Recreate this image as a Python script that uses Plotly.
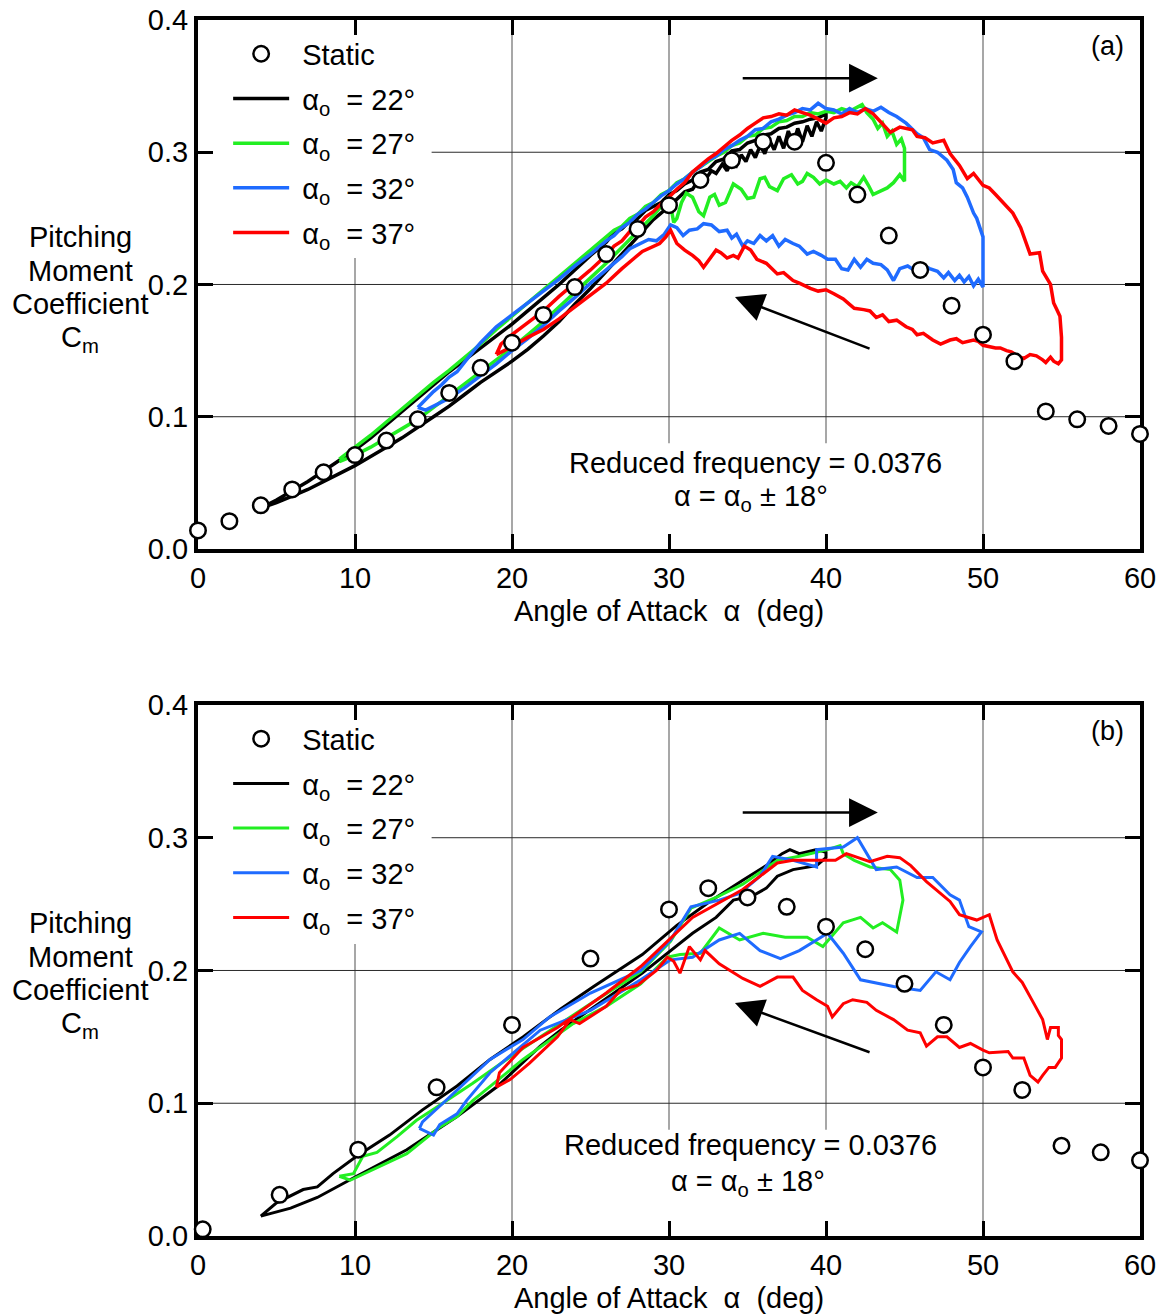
import plotly.graph_objects as go

FONT = "Liberation Sans, Arial, Helvetica, sans-serif"
FS = 29

# ---------------- Panel (a): measured loops (alpha deg, Cm) ----------------
static_a_alpha = [0, 2, 4, 6, 8, 10, 12, 14, 16, 18, 20, 22, 24, 26, 28, 30,
                  32, 34, 36, 38, 40, 42, 44, 46, 48, 50, 52, 54, 56, 58, 60]
static_a_cm = [0.014, 0.021, 0.033, 0.045, 0.058, 0.071, 0.082, 0.098, 0.118,
               0.137, 0.156, 0.177, 0.198, 0.223, 0.242, 0.260, 0.279, 0.294,
               0.308, 0.308, 0.292, 0.268, 0.237, 0.211, 0.184, 0.162, 0.142,
               0.104, 0.098, 0.093, 0.087]

a22_loop = [
    (4, 0.031), (5, 0.037), (6, 0.044), (7, 0.051), (8, 0.059), (9, 0.067),
    (10, 0.075), (11, 0.084), (12, 0.094), (13, 0.104), (14, 0.114), (15, 0.124),
    (16, 0.134), (17, 0.143), (18, 0.152), (19, 0.161), (20, 0.170), (21, 0.180),
    (22, 0.190), (23, 0.200), (24, 0.211), (25, 0.222), (26, 0.232), (26.5, 0.239),
    (27, 0.242), (27.5, 0.248), (28, 0.250), (28.5, 0.256), (29, 0.259), (29.5, 0.262),
    (30, 0.268), (30.5, 0.271), (31, 0.276), (31.5, 0.279), (32, 0.285), (32.5, 0.287),
    (33, 0.293), (33.5, 0.295), (34, 0.301), (34.5, 0.302), (35, 0.307), (35.5, 0.309),
    (36, 0.313), (36.5, 0.314), (37, 0.318), (37.5, 0.319), (38, 0.322), (38.5, 0.323),
    (39, 0.325), (39.5, 0.326), (40, 0.329),
    (40, 0.326), (39.7, 0.316), (39.4, 0.323), (39.1, 0.312), (38.8, 0.320),
    (38.5, 0.308), (38.2, 0.318), (37.9, 0.306), (37.6, 0.316), (37.3, 0.303),
    (37, 0.312), (36.7, 0.302), (36.4, 0.309), (36.1, 0.299), (35.8, 0.305),
    (35.5, 0.296), (35.2, 0.302), (34.9, 0.293), (34.6, 0.298), (34.3, 0.290),
    (34, 0.294), (33.7, 0.286), (33.4, 0.291), (33, 0.284), (32.7, 0.286), (32.3, 0.279),
    (32, 0.281), (31.5, 0.272), (31, 0.270), (30, 0.259), (29, 0.249), (28, 0.236),
    (27, 0.223), (26, 0.210), (25, 0.197), (24, 0.185), (23, 0.172), (22, 0.161),
    (21, 0.151), (20, 0.142), (19, 0.134), (18, 0.126), (17, 0.117), (16, 0.108),
    (15, 0.100), (14, 0.092), (13, 0.084), (12, 0.077), (11, 0.070), (10, 0.063),
    (9, 0.057), (8, 0.051), (7, 0.045), (6, 0.040), (5, 0.035), (4, 0.031),
]

a27_loop = [
    (9, 0.068), (10, 0.077), (11, 0.086), (12, 0.096), (13, 0.106), (14, 0.116),
    (15, 0.126), (16, 0.135), (17, 0.145), (18, 0.155), (19, 0.166), (20, 0.176),
    (21, 0.186), (22, 0.196), (23, 0.206), (24, 0.216), (25, 0.226), (26, 0.236),
    (26.5, 0.241), (27, 0.244), (27.5, 0.250), (28, 0.253), (28.5, 0.259), (29, 0.262),
    (29.5, 0.268), (30, 0.271), (30.5, 0.277), (31, 0.280), (31.5, 0.285), (32, 0.289),
    (32.5, 0.293), (33, 0.297), (33.5, 0.300), (34, 0.305), (34.5, 0.307), (35, 0.312),
    (35.5, 0.313), (36, 0.318), (36.5, 0.319), (37, 0.323), (37.5, 0.324), (38, 0.327),
    (38.5, 0.327), (39, 0.330), (39.5, 0.329), (40, 0.331), (40.5, 0.330), (41, 0.333),
    (41.5, 0.331), (42, 0.334), (42.3, 0.336), (42.6, 0.330), (43, 0.325), (43.3, 0.318),
    (43.6, 0.322), (43.9, 0.312), (44.2, 0.316), (44.5, 0.306), (44.8, 0.310), (45, 0.303),
    (45, 0.278), (44.7, 0.283), (44.3, 0.277), (43.9, 0.273), (43.5, 0.271), (43, 0.268),
    (42.7, 0.275), (42.4, 0.281), (42, 0.274), (41.6, 0.277), (41.3, 0.273), (40.9, 0.278),
    (40.5, 0.276), (40, 0.279), (39.6, 0.276), (39.2, 0.281), (38.8, 0.284), (38.5, 0.278),
    (38.2, 0.276), (37.8, 0.283), (37.3, 0.280), (36.9, 0.271), (36.4, 0.274), (36.1, 0.281),
    (35.8, 0.280), (35.4, 0.266), (35, 0.265), (34.6, 0.272), (34.1, 0.276), (33.6, 0.262),
    (33.2, 0.260), (32.9, 0.268), (32.6, 0.266), (32.2, 0.252), (31.9, 0.255), (31.5, 0.266),
    (31.1, 0.269), (30.8, 0.262), (30.5, 0.250), (30.3, 0.247), (30.1, 0.260), (29.9, 0.265),
    (29.5, 0.259), (29, 0.252), (28, 0.240), (27, 0.228), (26, 0.216), (25, 0.205),
    (24, 0.194), (23, 0.183), (22, 0.172), (21, 0.162), (20, 0.152), (19, 0.143),
    (18, 0.134), (17, 0.125), (16, 0.116), (15, 0.107), (14, 0.098), (13, 0.091),
    (12, 0.084), (11, 0.077), (10, 0.071), (9, 0.066),
]

a32_loop = [
    (14, 0.107), (14.5, 0.113), (15, 0.119), (15.5, 0.124), (16, 0.130), (16.5, 0.134),
    (17, 0.142), (17.5, 0.149), (18, 0.156), (18.5, 0.162), (19, 0.168), (20, 0.177),
    (21, 0.186), (22, 0.195), (23, 0.204), (24, 0.214), (25, 0.223), (26, 0.233),
    (26.5, 0.237), (27, 0.243), (27.5, 0.247), (28, 0.253), (28.5, 0.257), (29, 0.262),
    (29.5, 0.267), (30, 0.271), (30.5, 0.276), (31, 0.280), (31.5, 0.285), (32, 0.289),
    (32.5, 0.294), (33, 0.297), (33.5, 0.302), (34, 0.305), (34.5, 0.309), (35, 0.312),
    (35.5, 0.317), (36, 0.318), (36.5, 0.323), (37, 0.325), (37.5, 0.328), (38, 0.330),
    (38.5, 0.333), (39, 0.332), (39.5, 0.337), (40, 0.333), (40.5, 0.332), (41, 0.329),
    (41.5, 0.333), (42, 0.330), (42.5, 0.333), (43, 0.331), (43.5, 0.334), (44, 0.330),
    (44.5, 0.327), (45.1, 0.322), (45.8, 0.314), (46.2, 0.311), (46.6, 0.302), (47.1, 0.300),
    (47.7, 0.294), (48.1, 0.287), (48.3, 0.277), (48.7, 0.273), (49, 0.266), (49.4, 0.254),
    (49.6, 0.250), (49.8, 0.243), (50, 0.236),
    (50, 0.198), (49.7, 0.204), (49.4, 0.199), (49.1, 0.206), (48.8, 0.202), (48.5, 0.207),
    (48.2, 0.203), (47.8, 0.209), (47.5, 0.205), (47.1, 0.210), (46.6, 0.212), (46.1, 0.215),
    (45.6, 0.211), (45.2, 0.214), (44.7, 0.212), (44.3, 0.203), (43.9, 0.211), (43.5, 0.215),
    (43, 0.216), (42.6, 0.219), (42.2, 0.213), (41.8, 0.219), (41.4, 0.211), (41, 0.212),
    (40.6, 0.219), (40.1, 0.219), (39.7, 0.222), (39.2, 0.225), (38.8, 0.223), (38.3, 0.229),
    (37.9, 0.231), (37.4, 0.234), (37, 0.229), (36.6, 0.237), (36.2, 0.233), (35.8, 0.237),
    (35.4, 0.231), (35, 0.233), (34.7, 0.229), (34.3, 0.238), (34, 0.235), (33.7, 0.241),
    (33.2, 0.240), (32.7, 0.245), (32.2, 0.246), (31.8, 0.242), (31.3, 0.241), (30.9, 0.237),
    (30.5, 0.243), (30.1, 0.245), (29.7, 0.238), (29.2, 0.233), (28.7, 0.234), (28.2, 0.231),
    (27.5, 0.227), (27, 0.221), (26, 0.211), (25, 0.201), (24, 0.190), (23, 0.180),
    (22, 0.169), (21, 0.159), (20, 0.150), (19, 0.140), (18, 0.131), (17, 0.122),
    (16, 0.114), (15, 0.108), (14.5, 0.105), (14, 0.107),
]

a37_loop = [
    (19, 0.147), (19.3, 0.155), (20, 0.162), (21, 0.171), (22, 0.180), (23, 0.191),
    (24, 0.201), (25, 0.211), (26, 0.222), (26.5, 0.229), (27, 0.233), (27.5, 0.240),
    (28, 0.244), (28.5, 0.251), (29, 0.255), (29.5, 0.261), (30, 0.266), (30.5, 0.272),
    (31, 0.277), (31.5, 0.285), (32, 0.290), (32.5, 0.295), (33, 0.299), (33.5, 0.304),
    (34, 0.309), (34.5, 0.313), (35, 0.318), (35.5, 0.322), (36, 0.326), (36.5, 0.327),
    (37, 0.329), (37.5, 0.328), (38, 0.332), (38.5, 0.330), (39, 0.328), (39.5, 0.325),
    (40, 0.322), (40.5, 0.326), (41, 0.327), (41.5, 0.330), (42, 0.329), (42.5, 0.333),
    (43, 0.329), (43.4, 0.324), (44.1, 0.315), (44.7, 0.319), (45.5, 0.317), (45.8, 0.312),
    (46.3, 0.311), (46.8, 0.307), (47.5, 0.309), (47.9, 0.299), (48.5, 0.290), (49, 0.280),
    (49.4, 0.284), (50, 0.275), (50.4, 0.273), (50.8, 0.268), (51.2, 0.263), (51.5, 0.259),
    (51.9, 0.254), (52.4, 0.243), (52.8, 0.229), (53, 0.223), (53.6, 0.224), (53.8, 0.210),
    (54.3, 0.200), (54.5, 0.186), (54.7, 0.181), (54.9, 0.176), (55, 0.160), (55, 0.143),
    (54.8, 0.140), (54.5, 0.142), (54.3, 0.145), (54, 0.141), (53.8, 0.143), (53.4, 0.146),
    (53, 0.147), (52.6, 0.144), (52.2, 0.146), (51.8, 0.149), (51.5, 0.150), (51.1, 0.152),
    (50.8, 0.152), (50.4, 0.153), (50, 0.154), (49.7, 0.157), (49.4, 0.158), (48.7, 0.156),
    (48.3, 0.159), (47.9, 0.158), (47.3, 0.155), (46.8, 0.158), (46.2, 0.163), (45.8, 0.162),
    (45.5, 0.166), (45.1, 0.168), (44.5, 0.173), (44, 0.172), (43.6, 0.177), (43.2, 0.175),
    (42.8, 0.180), (42.4, 0.181), (41.8, 0.182), (41.5, 0.185), (41.1, 0.189), (40.5, 0.193),
    (40, 0.196), (39.5, 0.195), (39, 0.197), (38.3, 0.201), (37.9, 0.203), (37.3, 0.209),
    (36.9, 0.208), (36.2, 0.216), (35.6, 0.219), (35.2, 0.226), (34.8, 0.229), (34.4, 0.220),
    (34.1, 0.222), (33.7, 0.220), (33.3, 0.224), (33, 0.226), (32.6, 0.219), (32.2, 0.213),
    (31.9, 0.218), (31.5, 0.222), (31, 0.226), (30.5, 0.231), (30.1, 0.241), (29.8, 0.236),
    (29.4, 0.231), (28.8, 0.228), (28.3, 0.225), (27.8, 0.220), (27, 0.212), (26, 0.201),
    (25, 0.192), (24, 0.183), (23, 0.174), (22, 0.166), (21, 0.160), (20, 0.153),
    (19.5, 0.150), (19, 0.147),
]

# ---------------- Panel (b): computed loops (alpha deg, Cm) ----------------
static_b_alpha = [0.3, 5.2, 10.2, 15.2, 20, 25, 30, 32.5, 35, 37.5, 40, 42.5,
                  45, 47.5, 50, 52.5, 55, 57.5, 60]
static_b_cm = [0.005, 0.031, 0.065, 0.112, 0.159, 0.209, 0.246, 0.262, 0.255,
               0.248, 0.233, 0.216, 0.190, 0.159, 0.127, 0.110, 0.068, 0.063,
               0.057]

b22_loop = [
    (4, 0.015), (5, 0.025), (6.7, 0.035), (7.6, 0.037), (8.6, 0.047), (10.1, 0.060),
    (12.2, 0.076), (14.3, 0.095), (16.5, 0.113), (18.6, 0.133), (20.7, 0.150),
    (23.1, 0.171), (25.2, 0.188), (28.3, 0.212), (30.5, 0.234), (32.6, 0.252),
    (34.7, 0.268), (36.2, 0.279), (37.2, 0.288), (37.7, 0.291), (38.3, 0.288),
    (39.4, 0.291), (40, 0.289),
    (40, 0.285), (39.4, 0.279), (37.9, 0.276), (36.9, 0.271), (36.2, 0.262),
    (35.3, 0.256), (34.1, 0.253), (33, 0.240), (31.5, 0.228), (28.3, 0.198),
    (25.2, 0.172), (23.1, 0.155), (21.8, 0.143), (19, 0.112), (16.5, 0.090),
    (13.3, 0.065), (10.1, 0.045), (7.6, 0.029), (5.9, 0.021), (4, 0.015),
]

b27_loop = [
    (9, 0.045), (9.9, 0.047), (10.5, 0.060), (11.4, 0.063), (12.7, 0.075), (13.9, 0.087),
    (15.2, 0.097), (17.5, 0.115), (19.9, 0.135), (21.8, 0.150), (25, 0.175), (28.2, 0.199),
    (30.1, 0.222), (31.4, 0.247), (33, 0.255), (34.7, 0.265), (36.9, 0.283), (38.3, 0.286),
    (40.1, 0.291), (40.9, 0.294), (41.1, 0.288), (41.8, 0.283), (42.8, 0.278), (44.1, 0.276),
    (44.7, 0.268), (44.9, 0.253), (44.7, 0.240), (44.5, 0.229),
    (43.6, 0.236), (43, 0.232), (42.2, 0.240), (41.1, 0.236), (39.8, 0.218), (38.8, 0.225),
    (37.4, 0.225), (36, 0.228), (34.5, 0.223), (33.2, 0.232), (32, 0.213), (30.7, 0.212),
    (29.9, 0.210), (28.2, 0.190), (26, 0.173), (23.9, 0.160), (20.7, 0.133), (17.5, 0.102),
    (16.5, 0.090), (15.4, 0.082), (13.3, 0.062), (11.2, 0.050), (9.7, 0.042), (9, 0.045),
]

b32_loop = [
    (14.1, 0.081), (14.3, 0.086), (15.6, 0.100), (18.6, 0.133), (20.7, 0.148),
    (22.4, 0.165), (25, 0.183), (28.2, 0.200), (30.1, 0.223), (31.4, 0.248),
    (33.2, 0.253), (34.5, 0.258), (35.8, 0.271), (36.6, 0.286), (37.9, 0.283),
    (39.4, 0.278), (39.4, 0.291), (41.1, 0.293), (42, 0.300), (43.2, 0.276),
    (44.5, 0.278), (45.8, 0.270), (46.8, 0.270), (47.9, 0.257), (48.5, 0.253),
    (49.1, 0.233), (49.9, 0.229),
    (49.2, 0.218), (48.5, 0.206), (47.9, 0.193), (47, 0.199), (46, 0.185), (44.3, 0.188),
    (42.2, 0.193), (41.1, 0.213), (40.1, 0.228), (38.3, 0.215), (37.1, 0.209),
    (35.8, 0.215), (34.5, 0.228), (33.2, 0.223), (31.5, 0.210), (30.1, 0.208),
    (28.2, 0.193), (25, 0.170), (21.8, 0.155), (18.6, 0.123), (17.1, 0.102),
    (16.5, 0.092), (15.4, 0.084), (15, 0.076), (14.1, 0.081),
]

b37_loop = [
    (19, 0.112), (19.2, 0.123), (20.7, 0.142), (22.9, 0.157), (26, 0.183), (28.2, 0.203),
    (31.5, 0.240), (34.7, 0.261), (36.9, 0.281), (37.9, 0.283), (40.6, 0.283), (41.3, 0.288),
    (42.8, 0.282), (43.9, 0.286), (44.7, 0.285), (45.4, 0.279), (46.4, 0.267), (47.3, 0.258),
    (47.9, 0.252), (48.5, 0.242), (49.6, 0.238), (50.4, 0.242), (50.9, 0.223), (51.9, 0.199),
    (52.5, 0.191), (53.2, 0.176), (53.8, 0.163), (54.1, 0.148), (54.3, 0.157), (54.8, 0.157),
    (54.8, 0.151), (55, 0.148), (55, 0.134),
    (54.6, 0.127), (54.2, 0.127), (53.8, 0.121), (53.5, 0.116), (53, 0.121), (52.6, 0.134),
    (51.9, 0.134), (51.6, 0.139), (50.4, 0.138), (50, 0.140), (49.2, 0.145), (48.5, 0.142),
    (47.7, 0.150), (47.1, 0.150), (46.4, 0.143), (46, 0.153), (45.2, 0.155), (44.3, 0.163),
    (43.2, 0.170), (42.6, 0.176), (41.7, 0.178), (41.1, 0.175), (40.4, 0.165), (40.1, 0.173),
    (39.4, 0.178), (38.5, 0.185), (37.9, 0.195), (36.9, 0.195), (35.8, 0.188), (34.7, 0.194),
    (33.2, 0.205), (32.3, 0.215), (32, 0.208), (31.3, 0.218), (30.7, 0.198), (30.3, 0.207),
    (29.9, 0.210), (29.2, 0.200), (28, 0.189), (26.9, 0.185), (26, 0.173), (24.3, 0.160),
    (23.7, 0.163), (22.9, 0.150), (21.1, 0.130), (19.9, 0.118), (19, 0.112),
]

mean_angles = [22, 27, 32, 37]
loop_colors = ["#000000", "#22EE22", "#1F6BFF", "#FF0000"]
x_ticks = [0, 10, 20, 30, 40, 50, 60]
y_ticks = [0.0, 0.1, 0.2, 0.3, 0.4]
panel_tags = ["(a)", "(b)"]
y_title_lines = ["Pitching", "Moment", "Coefficient", "C<sub>m</sub>"]
note_lines = ["Reduced frequency = 0.0376", "α = α<sub>o</sub> ± 18°"]

panels = [
    dict(xa="x", ya="y", legend="legend", tag=panel_tags[0], key="a", lw=3.5,
         static=(static_a_alpha, static_a_cm),
         loops=[a22_loop, a27_loop, a32_loop, a37_loop],
         note=[(35.48, 0.065), (35.25, 0.0386)],
         right_arrow=((34.6, 0.356), (43.3, 0.356)),
         left_arrow=((42.87, 0.151), (34.2, 0.1905))),
    dict(xa="x2", ya="y2", legend="legend2", tag=panel_tags[1], key="b", lw=3,
         static=(static_b_alpha, static_b_cm),
         loops=[b22_loop, b27_loop, b32_loop, b37_loop],
         note=[(35.2, 0.0686), (35.06, 0.040)],
         right_arrow=((34.6, 0.319), (43.3, 0.319)),
         left_arrow=((42.87, 0.138), (34.2, 0.1755))),
]

fig = go.Figure()

for p in panels:
    for k, (loop, ang, col) in enumerate(zip(p["loops"], mean_angles, loop_colors)):
        fig.add_trace(go.Scatter(
            x=[pt[0] for pt in loop], y=[pt[1] for pt in loop],
            mode="lines", line=dict(color=col, width=p["lw"]),
            name=f" α<sub>o</sub>  = {ang}°",
            xaxis=p["xa"], yaxis=p["ya"], legend=p["legend"],
            legendgroup=f"{p['key']}{ang}", legendrank=k + 2,
        ))
    fig.add_trace(go.Scatter(
        x=p["static"][0], y=p["static"][1], mode="markers",
        marker=dict(symbol="circle", size=15.5, color="white",
                    line=dict(color="black", width=2.5)),
        name=" Static", cliponaxis=False,
        xaxis=p["xa"], yaxis=p["ya"], legend=p["legend"],
        legendgroup=f"{p['key']}static", legendrank=1,
    ))

axis_common = dict(
    showline=True, linewidth=4, linecolor="black", mirror="ticks",
    ticks="inside", ticklen=15, tickwidth=3, tickcolor="black",
    showgrid=False, zeroline=False, layer="below traces", automargin=False,
    tickfont=dict(family=FONT, size=FS, color="black"),
)
legend_common = dict(xanchor="left", yanchor="top", bgcolor="rgba(0,0,0,0)",
                     itemwidth=56, tracegroupgap=4,
                     font=dict(family=FONT, size=FS, color="black"))

fig.update_layout(
    width=1165, height=1316,
    margin=dict(l=198, r=25, t=20, b=80, autoexpand=False),
    paper_bgcolor="white", plot_bgcolor="white",
    font=dict(family=FONT, size=FS, color="black"),
    xaxis=dict(domain=[0, 1], anchor="y", range=[0, 60], tickvals=x_ticks, **axis_common),
    yaxis=dict(domain=[0.565, 1], anchor="x", range=[0, 0.4], tickvals=y_ticks,
               tickformat=".1f", **axis_common),
    xaxis2=dict(domain=[0, 1], anchor="y2", range=[0, 60], tickvals=x_ticks, **axis_common),
    yaxis2=dict(domain=[0, 0.4367], anchor="x2", range=[0, 0.4], tickvals=y_ticks,
                tickformat=".1f", **axis_common),
    legend=dict(x=0.032, y=0.9931, **legend_common),
    legend2=dict(x=0.032, y=0.4298, **legend_common),
    showlegend=True,
)

VGRID = dict(color="#8a8a8a", width=1.5)
HGRID = dict(color="#2a2a2a", width=1)

shapes = []
annotations = []
for p in panels:
    xd, yd = p["xa"] + " domain", p["ya"] + " domain"
    # grid lines, left open where the legend and the note sit
    for v in x_ticks[1:-1]:
        if v == 10:
            span = (0, 0.55)
        elif v in (30, 40):
            span = (0.20, 1)
        else:
            span = (0, 1)
        shapes.append(dict(type="line", xref=p["xa"], yref=yd, x0=v, x1=v,
                           y0=span[0], y1=span[1], line=VGRID, layer="below"))
    for h in y_ticks[1:-1]:
        span = (0.248, 1) if h == 0.3 else (0, 1)
        shapes.append(dict(type="line", xref=xd, yref=p["ya"], x0=span[0], x1=span[1],
                           y0=h, y1=h, line=HGRID, layer="below"))
    # y-axis title, one annotation per line
    for line_txt, dy in zip(y_title_lines, [47.5, 13.5, -19.5, -54.5]):
        annotations.append(dict(
            text=line_txt, xref=xd, x=0, xshift=-118, xanchor="center",
            yref=p["ya"], y=0.2, yshift=dy, yanchor="middle",
            showarrow=False, font=dict(size=FS)))
    # x-axis title
    annotations.append(dict(
        text="Angle of Attack  α  (deg)", xref=xd, x=0.5, xanchor="center",
        yref=yd, y=0, yshift=-62, yanchor="middle", showarrow=False,
        font=dict(size=FS)))
    # panel tag
    annotations.append(dict(text=p["tag"], xref=xd, x=0.966, xanchor="center",
                            yref=yd, y=0.951, yanchor="middle",
                            showarrow=False, font=dict(size=27)))
    # note
    for line_txt, (nx, ny) in zip(note_lines, p["note"]):
        annotations.append(dict(
            text=line_txt, xref=p["xa"], x=nx, xanchor="center",
            yref=p["ya"], y=ny, yanchor="middle",
            showarrow=False, font=dict(size=FS)))
    # stroke-direction arrows
    for (tx, ty), (hx, hy) in (p["right_arrow"], p["left_arrow"]):
        annotations.append(dict(
            x=hx, y=hy, ax=tx, ay=ty,
            xref=p["xa"], yref=p["ya"], axref=p["xa"], ayref=p["ya"],
            text="", showarrow=True, arrowhead=2, arrowsize=2.3, arrowwidth=2.5,
            arrowcolor="black"))

fig.update_layout(shapes=shapes, annotations=annotations)
fig.write_html("out.html")
